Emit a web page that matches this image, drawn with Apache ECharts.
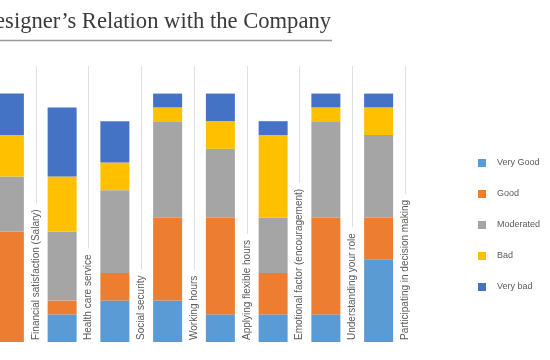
<!DOCTYPE html>
<html>
<head>
<meta charset="utf-8">
<script src="https://cdn.jsdelivr.net/npm/echarts@6/dist/echarts.min.js"></script>
<style>
html,body{margin:0;padding:0;background:#fff;overflow:hidden;width:550px;height:360px;}
#chart{width:567px;height:360px;margin-left:-17px;}
</style>
</head>
<body>
<div id="chart"></div>
<script>
const titleText = 'Designer\u2019s Relation with the Company';
const categories = [
  'Financial satisfaction (Salary)',
  'Health care service',
  'Social security',
  'Working hours',
  'Applying flexible hours',
  'Emotional factor (encouragement)',
  'Understanding your role',
  'Participating in decision making'
];
const seriesNames = ['Very Good', 'Good', 'Moderated', 'Bad', 'Very bad'];
const veryGood  = [0, 2, 3, 3, 2, 2, 2, 6];
const good      = [8, 1, 2, 6, 7, 3, 7, 3];
const moderated = [4, 5, 6, 7, 5, 4, 7, 6];
const bad       = [3, 4, 2, 1, 2, 6, 1, 2];
const veryBad   = [3, 5, 3, 1, 2, 1, 1, 1];

const colors = ['#5B9BD5', '#ED7D31', '#A5A5A5', '#FFC000', '#4472C4'];
const values = [veryGood, good, moderated, bad, veryBad];

const chart = echarts.init(document.getElementById('chart'), null, {renderer: 'canvas'});

const barSeries = seriesNames.map((name, i) => ({
  name: name,
  type: 'bar',
  stack: 'total',
  barWidth: 29,
  itemStyle: {color: colors[i]},
  data: values[i],
  silent: true
}));

const labelSeries = {
  type: 'custom',
  name: 'labels',
  silent: true,
  z: 5,
  encode: {x: 0, y: 1},
  data: categories.map((c, i) => [i, 0]),
  renderItem: function (params, api) {
    const idx = api.value(0);
    const pt = api.coord([idx, 0]);
    const half = api.size([1, 0])[0] / 2;
    return {
      type: 'text',
      x: pt[0] + half,
      y: pt[1] - 1,
      rotation: Math.PI / 2,
      style: {
        text: categories[idx],
        fill: '#595959',
        fontSize: 10,
        fontFamily: 'Liberation Sans, Arial, sans-serif',
        align: 'left',
        verticalAlign: 'middle',
        backgroundColor: '#ffffff',
        padding: [1, 6, 1, 1]
      }
    };
  }
};

chart.setOption({
  animation: false,
  color: colors,
  graphic: [
    {
      type: 'text',
      x: 348,
      y: 11,
      style: {
        text: titleText,
        fill: '#3a3a3a',
        font: '22.6px "Liberation Serif", "Times New Roman", serif',
        align: 'right',
        verticalAlign: 'top'
      }
    },
    {
      type: 'line',
      shape: {x1: 0, y1: 40.5, x2: 349, y2: 40.5},
      style: {stroke: '#9a9a9a', lineWidth: 1.5}
    }
  ],
  legend: {
    data: seriesNames,
    orient: 'vertical',
    left: 495,
    top: 158,
    padding: 0,
    itemWidth: 8,
    itemHeight: 8,
    itemGap: 21,
    icon: 'rect',
    textStyle: {
      fontSize: 9,
      color: '#595959',
      fontFamily: 'Liberation Sans, Arial, sans-serif',
      lineHeight: 10,
      padding: [0, 0, 0, 6]
    },
    selectedMode: false
  },
  grid: {
    left: 0,
    width: 422,
    top: 66,
    bottom: 18,
    containLabel: false
  },
  xAxis: {
    type: 'category',
    data: categories,
    boundaryGap: true,
    axisLine: {show: false},
    axisTick: {show: false},
    axisLabel: {show: false, interval: 0},
    splitLine: {show: true, interval: 0, lineStyle: {color: '#e0e0e0', width: 1}}
  },
  yAxis: {
    type: 'value',
    min: 0,
    max: 20,
    interval: 5,
    show: false,
    splitLine: {show: false}
  },
  series: barSeries.concat([labelSeries])
});
</script>
</body>
</html>
